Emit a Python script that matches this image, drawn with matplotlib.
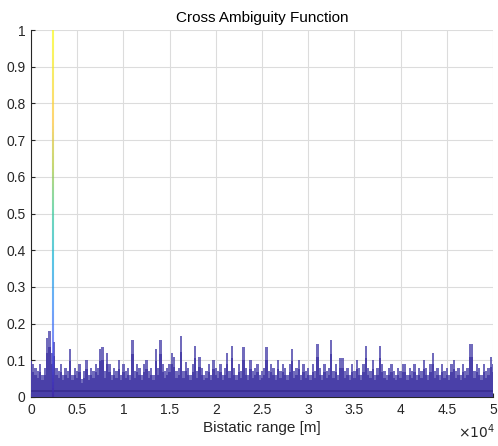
import numpy as np
import matplotlib
matplotlib.use('Agg')
import matplotlib.pyplot as plt
from matplotlib.colors import LinearSegmentedColormap
from matplotlib.collections import LineCollection

# Данные: шумовой фон функции неопределенности (шаг 250 м)
noise_step = 250
noise_vals = [
    0.13, 0.09, 0.08, 0.07, 0.09, 0.06, 0.08, 0.16, 0.18, 0.12,
    0.15, 0.08, 0.07, 0.09, 0.06, 0.08, 0.07, 0.13, 0.06, 0.08,
    0.07, 0.09, 0.05, 0.07, 0.10, 0.06, 0.08, 0.07, 0.09, 0.08,
    0.13, 0.135, 0.07, 0.12, 0.09, 0.06, 0.08, 0.07, 0.10, 0.06,
    0.09, 0.07, 0.08, 0.06, 0.155, 0.07, 0.09, 0.08, 0.06, 0.09,
    0.10, 0.07, 0.08, 0.06, 0.13, 0.08, 0.155, 0.09, 0.07, 0.08,
    0.09, 0.12, 0.11, 0.07, 0.08, 0.165, 0.07, 0.095, 0.08, 0.06,
    0.09, 0.14, 0.07, 0.11, 0.08, 0.06, 0.07, 0.09, 0.06, 0.10,
    0.08, 0.07, 0.09, 0.06, 0.08, 0.12, 0.07, 0.14, 0.08, 0.06,
    0.09, 0.07, 0.135, 0.08, 0.06, 0.10, 0.07, 0.08, 0.09, 0.06,
    0.07, 0.08, 0.135, 0.07, 0.09, 0.08, 0.06, 0.10, 0.07, 0.09,
    0.08, 0.06, 0.09, 0.13, 0.07, 0.08, 0.10, 0.06, 0.09, 0.07,
    0.08, 0.06, 0.09, 0.07, 0.145, 0.08, 0.06, 0.09, 0.07, 0.08,
    0.155, 0.07, 0.09, 0.06, 0.105, 0.105, 0.07, 0.08, 0.06, 0.09,
    0.07, 0.10, 0.08, 0.06, 0.09, 0.14, 0.08, 0.07, 0.10, 0.06,
    0.08, 0.14, 0.09, 0.07, 0.06, 0.08, 0.09, 0.07, 0.06, 0.08,
    0.07, 0.09, 0.09, 0.06, 0.08, 0.07, 0.09, 0.06, 0.08, 0.07,
    0.10, 0.08, 0.06, 0.09, 0.12, 0.07, 0.08, 0.06, 0.09, 0.07,
    0.08, 0.06, 0.09, 0.10, 0.07, 0.08, 0.06, 0.09, 0.07, 0.08,
    0.145, 0.145, 0.07, 0.09, 0.08, 0.06, 0.09, 0.07, 0.08, 0.11,
    0.09,
]
# главный пик (цель)
peak_range = 2400
peak_val = 1.0
# темная полоса у нуля
base_level = 0.015

x_ticks = [0, 5000, 10000, 15000, 20000, 25000, 30000, 35000, 40000, 45000, 50000]
x_labels = ['0', '0.5', '1', '1.5', '2', '2.5', '3', '3.5', '4', '4.5', '5']
y_ticks = [0, 0.1, 0.2, 0.3, 0.4, 0.5, 0.6, 0.7, 0.8, 0.9, 1.0]
y_labels = ['0', '0.1', '0.2', '0.3', '0.4', '0.5', '0.6', '0.7', '0.8', '0.9', '1']

# Палитра, похожая на parula из MATLAB
parula = LinearSegmentedColormap.from_list('parula', [
    (0.2422, 0.1504, 0.6603), (0.2810, 0.3228, 0.9579), (0.1786, 0.5289, 0.9682),
    (0.0689, 0.6948, 0.8394), (0.2161, 0.7843, 0.5923), (0.6720, 0.7793, 0.2227),
    (0.9970, 0.7659, 0.2199), (0.9598, 0.8870, 0.1566), (0.9769, 0.9839, 0.0805)])

plt.rcParams['font.family'] = ['Liberation Sans', 'DejaVu Sans']
text_col = '#262626'

fig = plt.figure(figsize=(4.98, 4.46), dpi=100)
ax = fig.add_axes([0.0622, 0.1099, 0.9278, 0.8228])

noise_x = np.arange(len(noise_vals)) * noise_step

# шум: лёгкие пики сверху, плотная часть снизу
ax.fill_between(noise_x, 0, noise_vals, step='mid', color='#4e46ac',
                alpha=0.8, lw=0, zorder=2)
ax.fill_between(noise_x, 0, np.array(noise_vals) * 0.75, step='mid',
                color='#4a40a8', lw=0, zorder=3)
ax.axhline(base_level, color='#33288a', lw=1.3, alpha=0.7, zorder=3)

# пик окрашен по высоте
ys = np.linspace(0, peak_val, 120)
segs = [[(peak_range, ys[i]), (peak_range, ys[i + 1])] for i in range(len(ys) - 1)]
lc = LineCollection(segs, colors=parula(ys[:-1] / peak_val), linewidths=1.5,
                    alpha=0.7, zorder=4)
ax.add_collection(lc)

ax.set_xlim(0, 50000)
ax.set_ylim(0, 1)
ax.set_xticks(x_ticks)
ax.set_xticklabels(x_labels)
ax.set_yticks(y_ticks)
ax.set_yticklabels(y_labels)
ax.tick_params(direction='in', length=3, width=0.8, colors=text_col,
               labelsize=10, pad=4)
ax.grid(True, color='#dcdcdc', lw=0.8)
ax.set_axisbelow(True)
for s in ['top', 'right']:
    ax.spines[s].set_visible(False)
for s in ['left', 'bottom']:
    ax.spines[s].set_color(text_col)
    ax.spines[s].set_linewidth(0.8)

ax.set_title('Cross Ambiguity Function', fontsize=11, color='#000000', pad=6)
ax.set_xlabel('Bistatic range [m]', fontsize=11, color=text_col, labelpad=3)
fig.text(0.993, 0.012, r'$\times10^{4}$', ha='right', va='bottom',
         fontsize=10, color=text_col)

fig.savefig('out.png', dpi=100, facecolor='white')
